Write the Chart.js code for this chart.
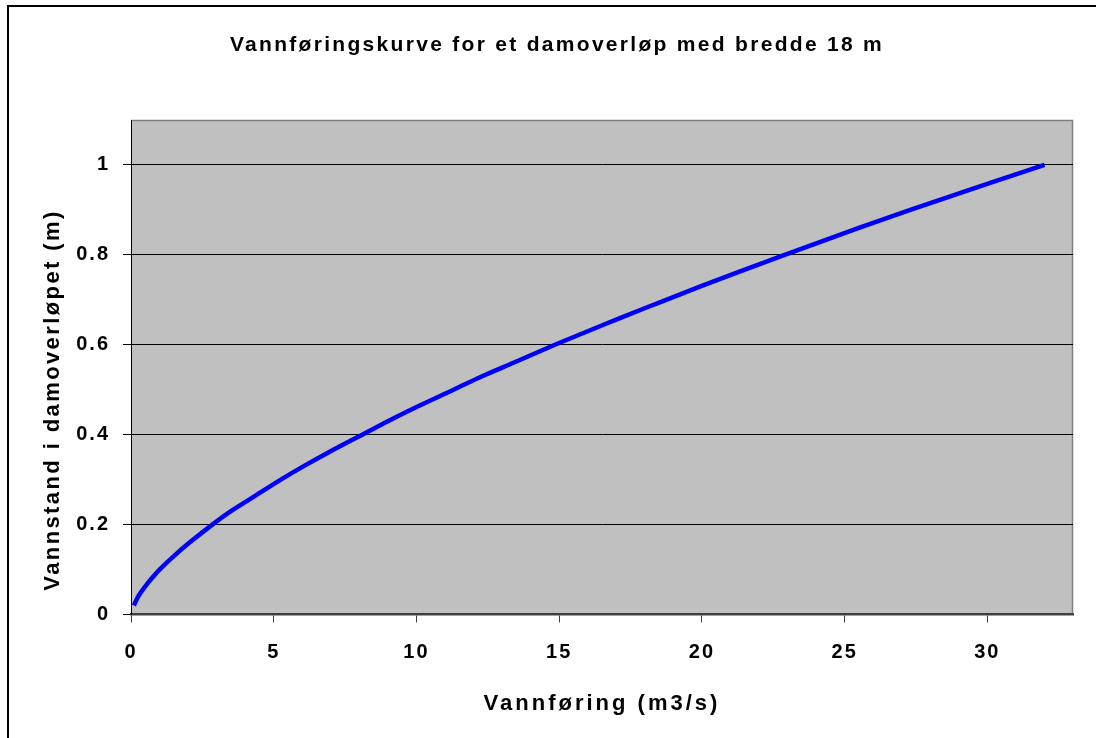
<!DOCTYPE html>
<html>
<head>
<meta charset="utf-8">
<script src="https://cdn.jsdelivr.net/npm/chart.js@4.4.1/dist/chart.umd.min.js"></script>
<style>
  html, body { margin: 0; padding: 0; background: #fff; }
  #wrap { width: 1096px; height: 738px; position: relative; }
</style>
</head>
<body>
<div id="wrap"><canvas id="c" width="1096" height="738"></canvas></div>
<script>
const levels = [0.02, 0.04, 0.06, 0.08, 0.10, 0.13, 0.16, 0.20, 0.23, 0.26, 0.30, 0.33, 0.36, 0.40,
  0.43, 0.46, 0.50, 0.53, 0.56, 0.60, 0.63, 0.66, 0.70, 0.73, 0.76, 0.80, 0.83, 0.86, 0.90, 0.93, 0.96, 1.00];
const flows = [0.1, 0.25, 0.47, 0.72, 1.0, 1.5, 2.05, 2.85, 3.5, 4.25, 5.25, 6.05, 6.9, 8.1,
  9.0, 9.95, 11.3, 12.3, 13.4, 14.85, 16.0, 17.15, 18.75, 19.95, 21.2, 22.9, 24.2, 25.5, 27.3, 28.7, 30.1, 32.0];
const xTicks = [0, 5, 10, 15, 20, 25, 30];
const yTicks = [0, 0.2, 0.4, 0.6, 0.8, 1];

const TITLE = "Vannføringskurve for et damoverløp med bredde 18 m";
const X_TITLE = "Vannføring (m3/s)";
const Y_TITLE = "Vannstand i damoverløpet (m)";
const FONT = "Liberation Sans, Arial, sans-serif";

const points = flows.map((q, i) => ({ x: q, y: levels[i] }));

// gray plot area with a thin darker frame, like the old Excel look
const plotBg = {
  id: "plotBg",
  beforeDraw(chart) {
    const { ctx, chartArea: a } = chart;
    ctx.save();
    ctx.fillStyle = "#c0c0c0";
    ctx.fillRect(a.left, a.top, a.right - a.left, a.bottom - a.top);
    ctx.strokeStyle = "#808080";
    ctx.lineWidth = 1.5;
    ctx.beginPath();
    ctx.moveTo(a.left, a.top + 0.5);
    ctx.lineTo(a.right - 0.5, a.top + 0.5);
    ctx.lineTo(a.right - 0.5, a.bottom);
    ctx.stroke();
    // outer chart frame (right/bottom run off the picture)
    ctx.strokeStyle = "#000";
    ctx.lineWidth = 2;
    ctx.strokeRect(8, 6, 1200, 800);
    ctx.restore();
    // Excel-ish spaced lettering for the tick labels
    ctx.letterSpacing = "2px";
  }
};

// titles drawn with letter spacing
const titles = {
  id: "titles",
  afterDraw(chart) {
    const { ctx, chartArea: a } = chart;
    ctx.save();
    ctx.fillStyle = "#000";
    ctx.textAlign = "center";
    ctx.textBaseline = "alphabetic";
    ctx.letterSpacing = "2.3px";
    ctx.font = "bold 21px " + FONT;
    ctx.fillText(TITLE, 557, 51);
    ctx.letterSpacing = "3px";
    ctx.font = "bold 22px " + FONT;
    ctx.fillText(X_TITLE, (a.left + a.right) / 2, 710);
    ctx.letterSpacing = "2.4px";
    ctx.textBaseline = "middle";
    ctx.translate(53, 400);
    ctx.rotate(-Math.PI / 2);
    ctx.fillText(Y_TITLE, 0, 0);
    ctx.restore();
    ctx.letterSpacing = "0px";
  }
};

new Chart(document.getElementById("c"), {
  type: "scatter",
  data: {
    datasets: [{
      data: points,
      showLine: true,
      borderColor: "#0000ff",
      borderWidth: 4.5,
      pointRadius: 0,
      tension: 0.3,
      fill: false
    }]
  },
  options: {
    responsive: false,
    animation: false,
    layout: { padding: { left: 0, top: 120, right: 23, bottom: 0 } },
    plugins: { legend: { display: false }, tooltip: { enabled: false }, title: { display: false } },
    scales: {
      x: {
        type: "linear",
        min: 0,
        max: 33,
        afterBuildTicks: s => { s.ticks = xTicks.map(v => ({ value: v })); },
        afterFit: s => { s.height = 123.5; },
        ticks: {
          font: { family: FONT, size: 20, weight: "bold" },
          color: "#000",
          padding: 18,
          maxRotation: 0,
          callback: v => String(v)
        },
        grid: { drawOnChartArea: false, tickLength: 8, color: "#404040", tickWidth: 1 },
        border: { color: "#404040", width: 2.5 }
      },
      y: {
        min: 0,
        max: 1.1,
        afterBuildTicks: s => { s.ticks = yTicks.map(v => ({ value: v })); },
        afterFit: s => { s.width = 131; },
        ticks: {
          font: { family: FONT, size: 20, weight: "bold" },
          color: "#000",
          padding: 13,
          callback: v => String(Math.round(v * 10) / 10)
        },
        grid: { color: "#000", lineWidth: 1, tickLength: 8 },
        border: { color: "#000", width: 1 }
      }
    }
  },
  plugins: [plotBg, titles]
});
</script>
</body>
</html>
